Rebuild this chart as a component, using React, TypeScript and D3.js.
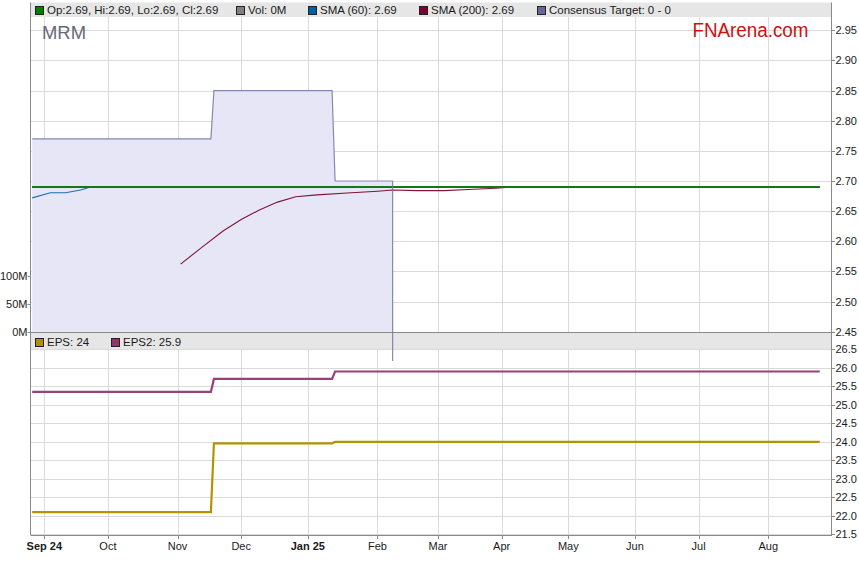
import React from "react";
import * as d3 from "d3";

const W = 859;
const H = 566;

// ---------- data ----------
const monthTickDates = [
  "2024-09-02", "2024-10-01", "2024-11-01", "2024-12-02", "2025-01-01", "2025-02-03",
  "2025-03-03", "2025-04-01", "2025-05-01", "2025-06-02", "2025-07-01", "2025-08-01",
];
const monthTickLabels = ["Sep 24", "Oct", "Nov", "Dec", "Jan 25", "Feb", "Mar", "Apr", "May", "Jun", "Jul", "Aug"];
const boldTickLabels = ["Sep 24", "Jan 25"];

const priceTicks = [2.45, 2.5, 2.55, 2.6, 2.65, 2.7, 2.75, 2.8, 2.85, 2.9, 2.95];
const epsTicks = [21.5, 22.0, 22.5, 23.0, 23.5, 24.0, 24.5, 25.0, 25.5, 26.0, 26.5];
const volTicks = [0, 50, 100]; // millions
const volTickLabels = ["0M", "50M", "100M"];

type Pt = [string, number];

const closeSeries: Pt[] = [["2024-08-27", 2.69], ["2025-08-26", 2.69]];

const sma60Series: Pt[] = [
  ["2024-08-27", 2.672], ["2024-09-04", 2.6805], ["2024-09-11", 2.6805], ["2024-09-18", 2.685],
  ["2024-09-23", 2.6895], ["2024-09-26", 2.69], ["2025-08-26", 2.69],
];

const sma200Series: Pt[] = [
  ["2024-11-04", 2.562], ["2024-11-13", 2.59], ["2024-11-22", 2.617], ["2024-12-02", 2.636],
  ["2024-12-10", 2.652], ["2024-12-18", 2.665], ["2024-12-26", 2.674], ["2025-01-06", 2.677],
  ["2025-01-20", 2.68], ["2025-02-03", 2.683], ["2025-02-10", 2.685], ["2025-02-20", 2.684],
  ["2025-03-05", 2.684], ["2025-03-17", 2.686], ["2025-03-28", 2.688], ["2025-04-07", 2.69],
  ["2025-08-26", 2.69],
];

const targetSeries: Pt[] = [
  ["2024-08-27", 2.77], ["2024-11-18", 2.77], ["2024-11-19", 2.85], ["2025-01-13", 2.85],
  ["2025-01-14", 2.7], ["2025-02-10", 2.7], ["2025-02-10", 0],
];

const epsSeries: Pt[] = [
  ["2024-08-27", 22.1], ["2024-11-18", 22.1], ["2024-11-19", 23.96], ["2025-01-13", 23.96],
  ["2025-01-14", 24.0], ["2025-08-26", 24.0],
];

const eps2Series: Pt[] = [
  ["2024-08-27", 25.35], ["2024-11-18", 25.35], ["2024-11-19", 25.7], ["2025-01-13", 25.7],
  ["2025-01-14", 25.9], ["2025-08-26", 25.9],
];

const legendMain = [
  { color: "#008000", text: "Op:2.69, Hi:2.69, Lo:2.69, Cl:2.69", x: 35 },
  { color: "#808080", text: "Vol: 0M", x: 236 },
  { color: "#0060a0", text: "SMA (60): 2.69", x: 308 },
  { color: "#800030", text: "SMA (200): 2.69", x: 419 },
  { color: "#666699", text: "Consensus Target: 0 - 0", x: 537 },
];
const legendEps = [
  { color: "#b09000", text: "EPS: 24", x: 35 },
  { color: "#993366", text: "EPS2: 25.9", x: 111 },
];

// ---------- helpers ----------
const BASE = Date.UTC(2024, 8, 2);
const DAY = 864e5;
function wdi(s: string): number {
  const t = Date.parse(s + "T00:00:00Z");
  const lo = Math.min(t, BASE);
  const hi = Math.max(t, BASE);
  let n = 0;
  for (let d = lo; d < hi; d += DAY) {
    const wd = new Date(d).getUTCDay();
    if (wd !== 0 && wd !== 6) n++;
  }
  return t >= BASE ? n : -n;
}

// ---------- layout ----------
const L = 31;
const R = 832;
const mainTop = 17;
const mainBottom = 332;
const epsTop = 349;
const epsBottom = 535;

const x = d3.scaleLinear().domain([-4.39, 260.05]).range([L, R]);
const yP = d3.scaleLinear().domain([2.45, 2.95]).range([331.7, 30.3]);
const yV = d3.scaleLinear().domain([0, 100]).range([331.7, 275.7]);
const yE = d3.scaleLinear().domain([21.5, 26.5]).range([534.3, 349.3]);

const lineP = d3.line<Pt>().x((d) => x(wdi(d[0]))).y((d) => yP(d[1]));
const lineE = d3.line<Pt>().x((d) => x(wdi(d[0]))).y((d) => yE(d[1]));
const areaP = d3
  .area<Pt>()
  .x((d) => x(wdi(d[0])))
  .y0(mainBottom)
  .y1((d) => yP(d[1]));

const FONT = "'Liberation Sans', Arial, Helvetica, sans-serif";
const GRID = "#dadada";
const AXIS = "#8a8a8a";
const TXT = "#1a1a1a";

function Legend({ items, y }: { items: typeof legendMain; y: number }) {
  return (
    <g>
      {items.map((it) => (
        <g key={it.text}>
          <rect x={it.x + 0.5} y={y - 7.5} width={8} height={8} fill={it.color} stroke="#222" strokeWidth={1} />
          <text x={it.x + 12} y={y} fontSize={11.5} fontFamily={FONT} fill={TXT}>
            {it.text}
          </text>
        </g>
      ))}
    </g>
  );
}

export default function App() {
  const px = (v: number) => Math.round(v) + 0.5;
  const tickXs = monthTickDates.map((d) => x(wdi(d)));

  return (
    <div style={{ position: "absolute", left: 0, top: 0, width: W, height: H, background: "#fff" }}>
      <svg width={W} height={H} viewBox={`0 0 ${W} ${H}`} style={{ display: "block" }}>
        <defs>
          <clipPath id="clipMain">
            <rect x={L} y={mainTop} width={R - L} height={mainBottom - mainTop} />
          </clipPath>
          <clipPath id="clipTarget">
            <rect x={L} y={mainTop} width={R - L} height={361 - mainTop} />
          </clipPath>
          <clipPath id="clipEps">
            <rect x={L} y={epsTop} width={R - L} height={epsBottom - epsTop} />
          </clipPath>
        </defs>
        <rect x={0} y={0} width={W} height={H} fill="#fff" />

        {/* ---------- main panel ---------- */}
        <rect x={L} y={2.5} width={R - L} height={14.5} fill="#e6e6e6" />
        {tickXs.map((tx, i) => (
          <line key={"vg" + i} x1={px(tx)} x2={px(tx)} y1={mainTop} y2={mainBottom} stroke={GRID} />
        ))}
        {priceTicks.map((t) => (
          <line key={"hg" + t} x1={L} x2={R} y1={px(yP(t))} y2={px(yP(t))} stroke={GRID} />
        ))}

        <g clipPath="url(#clipMain)">
          <path d={areaP(targetSeries) || ""} fill="#e6e6f6" stroke="none" />
        </g>

        {/* watermark */}
        <text x={42} y={39} fontSize={19} fontFamily={FONT} fill="#666a78" textLength={44} lengthAdjust="spacingAndGlyphs">
          MRM
        </text>
        <text x={692.5} y={37} fontSize={20} fontFamily={FONT} fill="#cc1111" textLength={116} lengthAdjust="spacingAndGlyphs">
          FNArena.com
        </text>

        <g clipPath="url(#clipMain)">
          <path d={lineP(sma200Series) || ""} fill="none" stroke="#7d1538" strokeWidth={1.1} />
          <path d={lineP(sma60Series) || ""} fill="none" stroke="#1f6db3" strokeWidth={1.1} />
          <path d={lineP(closeSeries) || ""} fill="none" stroke="#17761a" strokeWidth={1.2} shapeRendering="crispEdges" />
        </g>

        <Legend items={legendMain} y={14} />

        {/* volume axis */}
        {volTicks.map((v, i) => (
          <g key={"vt" + v}>
            <line x1={27.5} x2={L} y1={px(yV(v))} y2={px(yV(v))} stroke={AXIS} />
            <text x={27.5} y={yV(v) + 4} textAnchor="end" fontSize={11} fontFamily={FONT} fill={TXT}>
              {volTickLabels[i]}
            </text>
          </g>
        ))}

        {/* price axis */}
        {priceTicks.map((t) => (
          <g key={"pt" + t}>
            <line x1={R - 1} x2={R + 3} y1={px(yP(t))} y2={px(yP(t))} stroke={AXIS} />
            <text x={R + 3.5} y={yP(t) + 4} fontSize={11} fontFamily={FONT} fill={TXT}>
              {t.toFixed(2)}
            </text>
          </g>
        ))}
        <line x1={L} x2={R} y1={mainBottom + 0.5} y2={mainBottom + 0.5} stroke={AXIS} />

        {/* ---------- EPS panel ---------- */}
        <rect x={L} y={333} width={R - L} height={epsTop - 333} fill="#e6e6e6" />
        {tickXs.map((tx, i) => (
          <line key={"evg" + i} x1={px(tx)} x2={px(tx)} y1={epsTop} y2={epsBottom} stroke={GRID} />
        ))}
        {epsTicks.map((t) => (
          <line key={"ehg" + t} x1={L} x2={R} y1={px(yE(t))} y2={px(yE(t))} stroke={GRID} />
        ))}
        <g clipPath="url(#clipEps)">
          <path d={lineE(eps2Series) || ""} fill="none" stroke="#9a4079" strokeWidth={2.2} />
          <path d={lineE(epsSeries) || ""} fill="none" stroke="#b39300" strokeWidth={2.2} />
        </g>
        <Legend items={legendEps} y={346} />

        {epsTicks.map((t) => (
          <g key={"et" + t}>
            <line x1={R - 1} x2={R + 3} y1={px(yE(t))} y2={px(yE(t))} stroke={AXIS} />
            <text x={R + 3.5} y={yE(t) + 4} fontSize={11} fontFamily={FONT} fill={TXT}>
              {t.toFixed(1)}
            </text>
          </g>
        ))}

        {/* target line (overflows below the main panel like the original) */}
        <g clipPath="url(#clipTarget)">
          <path d={lineP(targetSeries) || ""} fill="none" stroke="#7474a8" strokeWidth={1.2} strokeOpacity={0.85} />
        </g>

        {/* frame */}
        <line x1={L - 0.5} x2={L - 0.5} y1={2.5} y2={epsBottom + 0.5} stroke={AXIS} />
        <line x1={R - 0.5} x2={R - 0.5} y1={2.5} y2={epsBottom + 0.5} stroke={AXIS} />
        <line x1={L} x2={R} y1={epsBottom + 0.5} y2={epsBottom + 0.5} stroke={AXIS} />

        {/* x axis */}
        {tickXs.map((tx, i) => (
          <g key={"xt" + i}>
            <line x1={px(tx)} x2={px(tx)} y1={epsBottom} y2={epsBottom + 4} stroke={AXIS} />
            <text
              x={tx}
              y={550}
              textAnchor="middle"
              fontSize={11}
              fontFamily={FONT}
              fontWeight={boldTickLabels.includes(monthTickLabels[i]) ? "bold" : "normal"}
              fill={TXT}
            >
              {monthTickLabels[i]}
            </text>
          </g>
        ))}
      </svg>
    </div>
  );
}
